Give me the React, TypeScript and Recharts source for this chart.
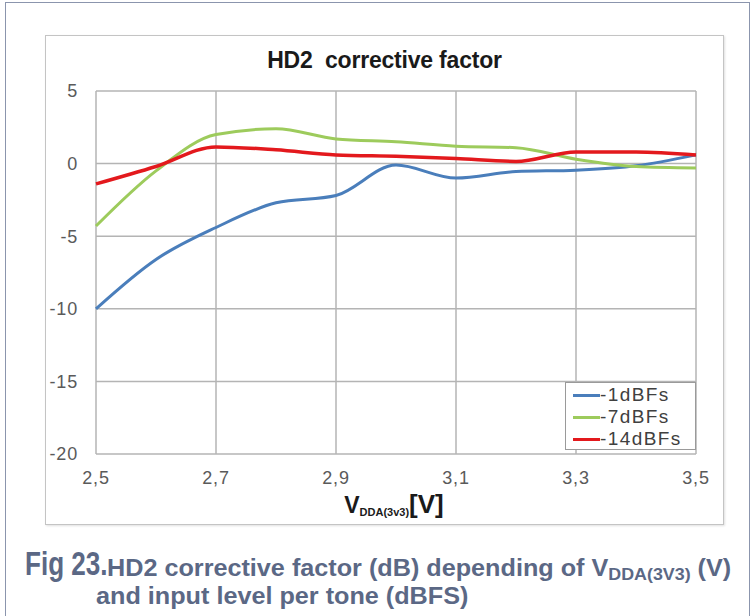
import React from "react";
import { LineChart, Line, XAxis, YAxis, CartesianGrid, Legend } from "recharts";

// supply voltage V_DDA(3V3) in volts
const voltages = [2.5, 2.6, 2.7, 2.8, 2.9, 3.0, 3.1, 3.2, 3.3, 3.4, 3.5];
// HD2 corrective factor (dB) for each input level
const minus1dBFs = [-10, -6.6, -4.4, -2.7, -2.2, -0.1, -1.0, -0.55, -0.45, -0.15, 0.6];
const minus7dBFs = [-4.3, -0.5, 2.0, 2.4, 1.7, 1.5, 1.2, 1.1, 0.3, -0.2, -0.3];
const minus14dBFs = [-1.4, -0.2, 1.15, 0.95, 0.6, 0.5, 0.35, 0.15, 0.8, 0.8, 0.6];

const xTicks = [2.5, 2.7, 2.9, 3.1, 3.3, 3.5];
const yTicks = [-20, -15, -10, -5, 0, 5];

const seriesNames = ["-1dBFs", "-7dBFs", "-14dBFs"];
const seriesColors = ["#4a7ebb", "#9dcb5c", "#e3191d"];

const data = voltages.map((v, i) => ({
  v,
  s1: minus1dBFs[i],
  s7: minus7dBFs[i],
  s14: minus14dBFs[i],
}));

const font = "'Liberation Sans', Arial, sans-serif";
const captionColor = "#5b6885";

function AxisTitle(props: any) {
  const vb = props.viewBox || {};
  const cx = vb.x + vb.width / 2 - 2;
  const y = vb.y + 59;
  return (
    <text x={cx} y={y} textAnchor="middle" fontFamily={font} fontWeight="bold" fill="#1a1a1a">
      <tspan fontSize={23}>V</tspan>
      <tspan fontSize={11} dy={3}>DDA(3v3)</tspan>
      <tspan fontSize={26} dy={-3}>[V]</tspan>
    </text>
  );
}

function LegendBox() {
  return (
    <div
      style={{
        width: 131,
        height: 68,
        border: "1.5px solid #9a9a9a",
        background: "#fff",
        fontFamily: font,
        fontSize: 19,
        color: "#404040",
        boxSizing: "border-box",
        padding: "1px 0 0 7px",
        textAlign: "left",
      }}
    >
      {seriesNames.map((n, i) => (
        <div key={n} style={{ display: "flex", alignItems: "center", height: 22 }}>
          <span style={{ width: 27, height: 3, background: seriesColors[i], display: "inline-block" }} />
          <span style={{ letterSpacing: 1.4 }}>{n}</span>
        </div>
      ))}
    </div>
  );
}

export default function App() {
  return (
    <div style={{ position: "absolute", left: 0, top: 0, width: 754, height: 616, background: "#fff", overflow: "hidden" }}>
      {/* outer figure frame */}
      <div
        style={{
          position: "absolute",
          left: 5,
          top: 2,
          width: 743,
          height: 640,
          borderLeft: "1.5px solid #8b95ad",
          borderTop: "1.5px solid #8b95ad",
          borderRight: "1.5px solid #8b95ad",
        }}
      />
      {/* chart box */}
      <div
        style={{
          position: "absolute",
          left: 45,
          top: 35,
          width: 679,
          height: 490,
          border: "1.5px solid #c4c4c4",
          boxSizing: "border-box",
          boxShadow: "1px 1px 2px rgba(0,0,0,0.12)",
        }}
      />
      <div
        style={{
          position: "absolute",
          left: 45,
          top: 47,
          width: 679,
          textAlign: "center",
          fontFamily: font,
          fontWeight: "bold",
          fontSize: 23,
          color: "#1a1a1a",
          letterSpacing: -0.2,
        }}
      >
        HD2&nbsp; corrective factor
      </div>
      <div style={{ position: "absolute", left: 45, top: 35 }}>
        <LineChart width={679} height={490} data={data} margin={{ top: 56, right: 28, left: 0, bottom: 0 }}>
          <CartesianGrid stroke="#b4b4b4" strokeWidth={1.5} />
          <XAxis
            dataKey="v"
            type="number"
            domain={[2.5, 3.5]}
            ticks={xTicks}
            interval={0}
            height={71}
            axisLine={false}
            tickLine={false}
            tickSize={0}
            tickMargin={17}
            tickFormatter={(t: number) => t.toFixed(1).replace(".", ",")}
            tick={{ fontSize: 18, fill: "#5a5a5a", fontFamily: font, letterSpacing: 0.8 }}
            label={{ content: AxisTitle }}
          />
          <YAxis
            type="number"
            domain={[-20, 5]}
            ticks={yTicks}
            interval={0}
            width={51}
            axisLine={false}
            tickLine={false}
            tickSize={0}
            tickMargin={18}
            tick={{ fontSize: 18, fill: "#5a5a5a", fontFamily: font, letterSpacing: 0.8 }}
          />
          <Legend
            layout="horizontal"
            align="center"
            verticalAlign="middle"
            content={() => <LegendBox />}
            wrapperStyle={{ left: 520, top: 347, width: 131 }}
          />
          <Line type="monotone" dataKey="s1" name={seriesNames[0]} stroke={seriesColors[0]} strokeWidth={3} dot={false} isAnimationActive={false} />
          <Line type="monotone" dataKey="s7" name={seriesNames[1]} stroke={seriesColors[1]} strokeWidth={3} dot={false} isAnimationActive={false} />
          <Line type="monotone" dataKey="s14" name={seriesNames[2]} stroke={seriesColors[2]} strokeWidth={3.5} dot={false} isAnimationActive={false} />
        </LineChart>
      </div>
      {/* figure caption */}
      <div
        style={{
          position: "absolute",
          left: 25,
          top: 546,
          fontFamily: font,
          fontWeight: "bold",
          fontSize: 33,
          lineHeight: "36px",
          color: captionColor,
          whiteSpace: "nowrap",
          transform: "scaleX(0.79)",
          transformOrigin: "0 0",
        }}
      >
        Fig 23.
      </div>
      <div
        style={{
          position: "absolute",
          left: 107,
          top: 554,
          fontFamily: font,
          fontWeight: "bold",
          fontSize: 24,
          lineHeight: "28px",
          color: captionColor,
          whiteSpace: "nowrap",
          transform: "scaleX(1.05)",
          transformOrigin: "0 0",
        }}
      >
        HD2 corrective factor (dB) depending of V<sub style={{ fontSize: 17, verticalAlign: "-4px" }}>DDA(3V3)</sub> (V)
      </div>
      <div
        style={{
          position: "absolute",
          left: 96,
          top: 582,
          fontFamily: font,
          fontWeight: "bold",
          fontSize: 24,
          lineHeight: "28px",
          color: captionColor,
          whiteSpace: "nowrap",
          transform: "scaleX(1.05)",
          transformOrigin: "0 0",
        }}
      >
        and input level per tone (dBFS)
      </div>
    </div>
  );
}
